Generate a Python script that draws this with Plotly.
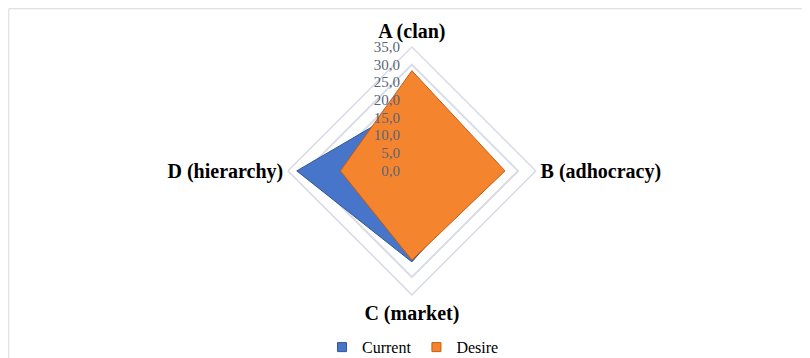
import plotly.graph_objects as go

categories = ["A (clan)", "B (adhocracy)", "C (market)", "D (hierarchy)"]
current = [19.0, 22.8, 25.7, 32.5]
desire = [28.3, 26.3, 25.2, 20.2]

SERIF = "Liberation Serif, Times New Roman, serif"
BLUE = "#4675CA"
ORANGE = "#F5842E"


def closed(vals):
    return vals + vals[:1]


fig = go.Figure()
for name, vals, fc, lc in [
    ("Current", current, BLUE, "#2F5597"),
    ("Desire", desire, ORANGE, "#C55A11"),
]:
    fig.add_trace(
        go.Scatterpolar(
            r=closed(vals),
            theta=closed(categories),
            name=name,
            mode="lines",
            fill="toself",
            fillcolor=fc,
            line=dict(color=lc, width=1),
            showlegend=False,
        )
    )

# square legend keys like the Excel original
for name, fc, lc in [("Current", BLUE, "#2F5597"), ("Desire", ORANGE, "#C55A11")]:
    fig.add_trace(
        go.Scatterpolar(
            r=[None],
            theta=[None],
            name=name,
            mode="markers",
            marker=dict(symbol="square", size=9, color=fc, line=dict(color=lc, width=1)),
        )
    )

fig.update_layout(
    width=810,
    height=358,
    margin=dict(l=0, r=0, t=0, b=0),
    paper_bgcolor="white",
    separators=",.",
    font=dict(family=SERIF, color="#000000"),
    polar=dict(
        domain=dict(x=[0.3456, 0.6516], y=[0.1985, 0.8915]),
        gridshape="linear",
        bgcolor="white",
        radialaxis=dict(
            range=[0, 35],
            dtick=5,
            tickformat=".1f",
            angle=90,
            tickangle=90,
            side="counterclockwise",
            showline=False,
            ticks="outside",
            ticklen=6,
            tickcolor="rgba(0,0,0,0)",
            gridcolor="#D9DCE6",
            gridwidth=1.5,
            tickfont=dict(family=SERIF, size=15, color="#5A6478"),
            layer="above traces",
        ),
        angularaxis=dict(
            rotation=90,
            direction="clockwise",
            showgrid=False,
            showline=True,
            linecolor="#D9DCE6",
            linewidth=1.5,
            ticks="",
            tickfont=dict(family=SERIF, size=20, color="#000000", weight="bold"),
        ),
    ),
    legend=dict(
        orientation="h",
        x=0.5,
        xanchor="center",
        y=0.005,
        yanchor="bottom",
        font=dict(family=SERIF, size=16, color="#000000"),
        itemwidth=30,
    ),
    shapes=[
        dict(
            type="rect",
            xref="paper",
            yref="paper",
            x0=0.001,
            x1=0.999,
            y0=0.002,
            y1=0.998,
            line=dict(color="#D9D9D9", width=1),
        )
    ],
)

fig.write_html("out.html")
